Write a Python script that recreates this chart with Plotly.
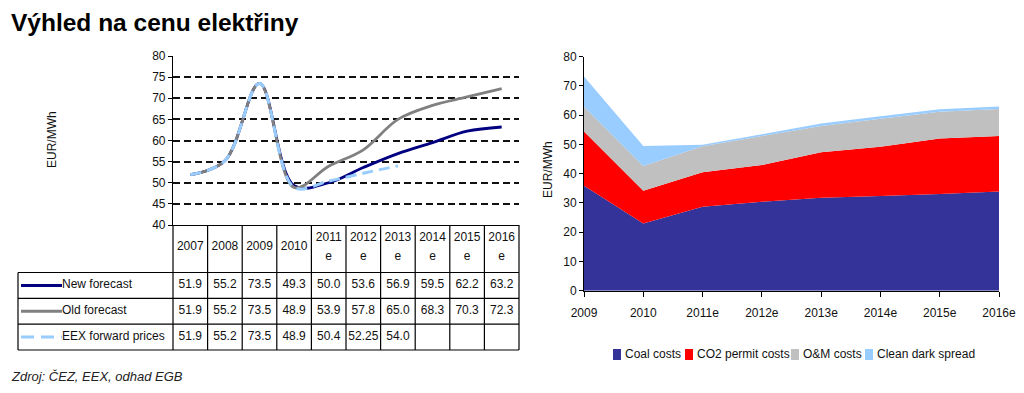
import plotly.graph_objects as go

# ---------------- data ----------------
table_years = ['2007', '2008', '2009', '2010', '2011e', '2012e', '2013e', '2014e', '2015e', '2016e']
new_forecast = [51.9, 55.2, 73.5, 49.3, 50.0, 53.6, 56.9, 59.5, 62.2, 63.2]
old_forecast = [51.9, 55.2, 73.5, 48.9, 53.9, 57.8, 65.0, 68.3, 70.3, 72.3]
eex_forward = [51.9, 55.2, 73.5, 48.9, 50.4, 52.25, 54.0]
price_series = ['New forecast', 'Old forecast', 'EEX forward prices']

cost_years = ['2009', '2010', '2011e', '2012e', '2013e', '2014e', '2015e', '2016e']
coal_costs = [35.9, 23.0, 28.7, 30.4, 31.8, 32.4, 33.1, 33.9]
co2_costs = [18.5, 11.2, 11.8, 12.6, 15.5, 16.8, 18.9, 19.0]
om_costs = [8.5, 8.4, 8.9, 9.9, 9.0, 9.6, 9.2, 9.2]
clean_dark_spread = [10.3, 6.9, 0.5, 0.6, 0.9, 0.8, 0.8, 0.9]
cost_series = ['Coal costs', 'CO2 permit costs', 'O&M costs', 'Clean dark spread']

title_text = 'Výhled na cenu elektřiny'
source_text = 'Zdroj: ČEZ, EEX, odhad EGB'
unit_text = 'EUR/MWh'

# ---------------- styles / geometry ----------------
W, H = 1024, 393
OFF = 8   # page body margin of the browser
FONT = 'Liberation Sans, Arial, sans-serif'
price_colors = ['#000080', '#808080', '#99ccff']
cost_colors = ['#333399', '#ff0000', '#c0c0c0', '#99ccff']


def pxx(p):
    return (p - OFF) / W


def pxy(p):
    return 1 - (p - OFF) / H


# left chart / table geometry (pixels of the target picture)
L_X0, L_X1 = 173, 519
L_Y0, L_Y1 = 56, 225
colw = (L_X1 - L_X0) / len(table_years)
T_X0, T_X1 = 16, 522          # table subplot pixel span (with padding)
T_Y0, T_Y1 = 223, 352
row_edges = [47.5, 73.3, 99.2, 125.0]   # pixels below table top (225)
label_left = 18


def tx(p):
    return -0.5 + (p - L_X0) / colw


fig = go.Figure()

# ---------------- left line chart ----------------
line_vals = [new_forecast, old_forecast, eex_forward]
for name, vals, col in zip(price_series, line_vals, price_colors):
    fig.add_trace(go.Scatter(
        x=table_years[:len(vals)], y=vals, name=name, mode='lines',
        line=dict(color=col, width=2.8 if col != '#99ccff' else 3,
                  shape='spline', smoothing=1.0,
                  dash='11px,6px' if name.startswith('EEX') else 'solid'),
        xaxis='x', yaxis='y', showlegend=False, hoverinfo='skip'))

# ---------------- table (text via scatter on its own axes) ----------------
hdr_x, hdr_y, hdr_t = [], [], []
for i, yr in enumerate(table_years):
    if len(yr) > 4:
        hdr_x += [i, i]
        hdr_y += [12.5, 31.5]
        hdr_t += [yr[:4], yr[4:]]
    else:
        hdr_x.append(i)
        hdr_y.append(22)
        hdr_t.append(yr)
fig.add_trace(go.Scatter(x=hdr_x, y=hdr_y, text=hdr_t, mode='text',
                         textposition='middle center',
                         textfont=dict(family=FONT, size=12, color='#111'),
                         xaxis='x3', yaxis='y3', showlegend=False, hoverinfo='skip'))


def fmt(v):
    s = f'{v:.2f}'
    return s[:-1] if s.endswith('0') else s


row_centers = [(row_edges[k] + row_edges[k + 1]) / 2 for k in range(3)]
for r, vals in enumerate(line_vals):
    fig.add_trace(go.Scatter(
        x=list(range(len(vals))), y=[row_centers[r]] * len(vals),
        text=[fmt(v) for v in vals], mode='text', textposition='middle center',
        textfont=dict(family=FONT, size=12, color='#111'),
        xaxis='x3', yaxis='y3', showlegend=False, hoverinfo='skip'))

fig.add_trace(go.Scatter(
    x=[tx(62)] * 3, y=row_centers, text=price_series, mode='text',
    textposition='middle right', textfont=dict(family=FONT, size=12, color='#111'),
    xaxis='x3', yaxis='y3', showlegend=False, hoverinfo='skip'))

shapes = []
bl = dict(color='black', width=1.2)
# vertical borders of year columns (header + rows)
for k in range(len(table_years) + 1):
    shapes.append(dict(type='line', xref='x3', yref='y3', x0=k - 0.5, x1=k - 0.5,
                       y0=0, y1=row_edges[-1], line=bl))
# label column left border
shapes.append(dict(type='line', xref='x3', yref='y3', x0=tx(label_left), x1=tx(label_left),
                   y0=row_edges[0], y1=row_edges[-1], line=bl))
# horizontal borders
for ye in row_edges:
    shapes.append(dict(type='line', xref='x3', yref='y3', x0=tx(label_left), x1=len(table_years) - 0.5,
                       y0=ye, y1=ye, line=bl))
# legend samples in label column
for r, col in enumerate(price_colors):
    shapes.append(dict(type='line', xref='x3', yref='y3', x0=tx(21), x1=tx(62),
                       y0=row_centers[r], y1=row_centers[r],
                       line=dict(color=col, width=3,
                                 dash='13px,7px' if r == 2 else 'solid')))

# ---------------- right stacked area chart ----------------
for name, vals, col in zip(cost_series, [coal_costs, co2_costs, om_costs, clean_dark_spread], cost_colors):
    fig.add_trace(go.Scatter(
        x=cost_years, y=vals, name=name, stackgroup='costs', mode='none',
        fillcolor=col, xaxis='x2', yaxis='y2', showlegend=False, hoverinfo='skip'))

# manual legend for the area chart
leg_sq = [613, 685, 791, 865]
annotations = []
for x0, name, col in zip(leg_sq, cost_series, cost_colors):
    shapes.append(dict(type='rect', xref='paper', yref='paper',
                       x0=pxx(x0), x1=pxx(x0 + 8), y0=pxy(360), y1=pxy(349),
                       fillcolor=col, line=dict(width=0)))
    annotations.append(dict(x=pxx(x0 + 10), y=pxy(354), xref='paper', yref='paper',
                            text=name, showarrow=False, xanchor='left', yanchor='middle',
                            font=dict(family=FONT, size=12, color='#111')))

# axis unit titles
annotations.append(dict(x=pxx(52), y=pxy(140), xref='paper', yref='paper', text=unit_text,
                        textangle=-90, showarrow=False, xanchor='center', yanchor='middle',
                        font=dict(family=FONT, size=12, color='#111')))
annotations.append(dict(x=pxx(548), y=pxy(170), xref='paper', yref='paper', text=unit_text,
                        textangle=-90, showarrow=False, xanchor='center', yanchor='middle',
                        font=dict(family=FONT, size=12, color='#111')))
# source
annotations.append(dict(x=pxx(9), y=pxy(376), xref='paper', yref='paper', text=source_text,
                        showarrow=False, xanchor='left', yanchor='middle',
                        font=dict(family=FONT, size=13, color='#222', style='italic')))

fig.update_layout(
    template='none',
    width=W, height=H, margin=dict(l=0, r=0, t=0, b=0, pad=0, autoexpand=False),
    paper_bgcolor='white', plot_bgcolor='rgba(0,0,0,0)',
    font=dict(family=FONT, size=12, color='#111'),
    title=dict(text='<b>' + title_text + '</b>', x=pxx(11), xanchor='left', xref='paper',
               y=pxy(22), yanchor='middle', yref='paper', automargin=False,
               font=dict(family=FONT, size=24.5, color='#000')),
    xaxis=dict(domain=[pxx(L_X0), pxx(L_X1)], type='category', range=[-0.5, len(table_years) - 0.5],
               showticklabels=False, ticks='', showgrid=False, zeroline=False, automargin=False,
               showline=True, linecolor='black', linewidth=1.2, anchor='y'),
    yaxis=dict(domain=[pxy(L_Y1), pxy(L_Y0)], range=[40, 80], dtick=5, tick0=40,
               showgrid=True, gridcolor='#111', gridwidth=1.6, griddash='7px,4px',
               showline=True, linecolor='black', linewidth=1.2, ticks='outside', ticklen=4,
               tickcolor='black', zeroline=False, anchor='x', automargin=False,
               tickfont=dict(family=FONT, size=12, color='#111')),
    xaxis2=dict(domain=[pxx(584), pxx(999)], type='category', range=[0, len(cost_years) - 1],
                showline=True, linecolor='black', linewidth=1, ticks='outside', ticklen=5,
                tickcolor='black', showgrid=False, zeroline=False, anchor='y2', automargin=False,
                ticklabelstandoff=6, tickfont=dict(family=FONT, size=12, color='#111')),
    yaxis2=dict(domain=[pxy(290.7), pxy(56.7)], range=[0, 80], dtick=10,
                showline=True, linecolor='black', linewidth=1, ticks='outside', ticklen=4,
                tickcolor='black', showgrid=False, zeroline=False, anchor='x2', automargin=False,
                tickfont=dict(family=FONT, size=12, color='#111')),
    xaxis3=dict(domain=[pxx(T_X0), pxx(T_X1)], range=[tx(T_X0), tx(T_X1)], visible=False,
                anchor='y3', automargin=False),
    yaxis3=dict(domain=[pxy(T_Y1), pxy(T_Y0)], range=[T_Y1 - 225, T_Y0 - 225], visible=False,
                anchor='x3', automargin=False),
    shapes=shapes,
    annotations=annotations,
    showlegend=False,
)

fig.write_html('out.html')
